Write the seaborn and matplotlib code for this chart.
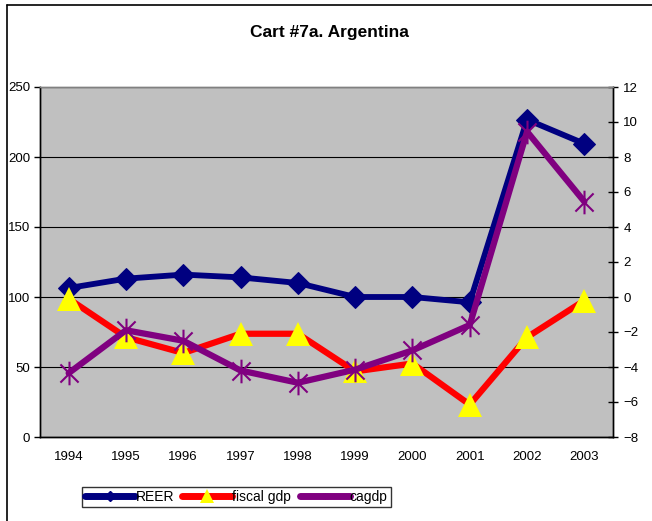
import numpy as np
import matplotlib
matplotlib.use("Agg")
import matplotlib.pyplot as plt
from matplotlib.path import Path
from matplotlib.lines import Line2D
import seaborn as sns

# values
years = ["1994", "1995", "1996", "1997", "1998", "1999", "2000", "2001", "2002", "2003"]
reer = [106.4, 113.1, 116.0, 114.0, 110.0, 100.0, 100.0, 96.2, 226.7, 209.5]
fiscal_gdp = [-0.1, -2.3, -3.2, -2.1, -2.1, -4.25, -3.8, -6.15, -2.3, -0.2]
cagdp = [-4.35, -1.9, -2.5, -4.2, -4.9, -4.15, -3.05, -1.6, 9.45, 5.45]

sns.set_theme(style="white")
plt.rcParams["font.family"] = ["Liberation Sans", "DejaVu Sans"]
plt.rcParams["text.color"] = "black"

# Excel style star: an X with a vertical bar through it
star = Path(
    [(-1, -1), (1, 1), (-1, 1), (1, -1), (0, -1.3), (0, 1.3)],
    [Path.MOVETO, Path.LINETO, Path.MOVETO, Path.LINETO, Path.MOVETO, Path.LINETO],
)

fig = plt.figure(figsize=(6.52, 5.21), dpi=100)
ax = fig.add_axes([40 / 652, 1 - 437 / 521, (613 - 40) / 652, (437 - 87) / 521])
ax.set_facecolor("#C0C0C0")
ax2 = ax.twinx()

xpos = np.arange(len(years))

sns.lineplot(x=xpos, y=reer, ax=ax, color="#000080", linewidth=4.2,
             marker="D", markersize=11, markeredgecolor="#000080",
             markerfacecolor="#000080", label="REER", legend=False)
sns.lineplot(x=xpos, y=fiscal_gdp, ax=ax2, color="#FF0000", linewidth=4.5,
             marker="^", markersize=17, markeredgewidth=0,
             markerfacecolor="#FFFF00", label="fiscal gdp", legend=False)
sns.lineplot(x=xpos, y=cagdp, ax=ax2, color="#800080", linewidth=4.5,
             marker=star, markersize=17, markeredgewidth=1.5,
             markeredgecolor="#800080", label="cagdp", legend=False)

ax.set_xlim(-0.5, len(years) - 0.5)
ax.set_ylim(0, 250)
ax2.set_ylim(-8, 12)
ax.set_yticks(np.arange(0, 251, 50))
ax2.set_yticks(np.arange(-8, 13, 2))

ax.set_xticks(xpos)
ax.set_xticklabels(years)
ax.set_xticks(np.arange(-0.5, len(years), 1), minor=True)
ax.tick_params(axis="x", which="major", length=0, pad=10, labelsize=9.5, colors="black")
ax.tick_params(axis="x", which="minor", length=5, width=1, direction="out", color="black")
ax.tick_params(axis="y", length=4, width=1, direction="out", labelsize=9.5, pad=3, colors="black")
ax2.tick_params(axis="y", length=7, width=1, direction="inout", labelsize=9.5, pad=4, colors="black")

ax.grid(axis="y", color="black", linewidth=0.8)
ax.grid(axis="x", visible=False)
ax2.grid(False)
ax.set_axisbelow(True)

for a in (ax, ax2):
    a.spines["top"].set_color("#808080")
    a.spines["left"].set_color("black")
    a.spines["right"].set_color("black")
    a.spines["bottom"].set_color("black")
    for s in a.spines.values():
        s.set_linewidth(1)
    a.set_xlabel("")
    a.set_ylabel("")

fig.text(329 / 652, 1 - 32 / 521, "Cart #7a. Argentina", ha="center", va="center",
         fontsize=12.5, fontweight="bold", color="black")

handles = [
    Line2D([], [], color="#000080", linewidth=5, marker="D", markersize=5,
           solid_capstyle="round"),
    Line2D([], [], color="#FF0000", linewidth=5, marker="^", markersize=10,
           markerfacecolor="#FFFF00", markeredgewidth=0, solid_capstyle="round"),
    Line2D([], [], color="#800080", linewidth=5, marker=star, markersize=5,
           markeredgewidth=1, solid_capstyle="round"),
]
leg = fig.legend(handles, ["REER", "fiscal gdp", "cagdp"], ncol=3,
                 loc="center left", bbox_to_anchor=(82 / 652, 1 - 497 / 521),
                 frameon=True, fancybox=False, fontsize=10, handlelength=3.6,
                 handletextpad=0.0, columnspacing=0.6, borderpad=0.25,
                 borderaxespad=0)
leg.get_frame().set_edgecolor("black")
leg.get_frame().set_linewidth(1)

# chart area frame (left and top edges visible)
fig.add_artist(Line2D([7 / 652, 7 / 652], [0, 1 - 5 / 521], color="black",
                      linewidth=1.2, transform=fig.transFigure))
fig.add_artist(Line2D([7 / 652, 1], [1 - 5 / 521, 1 - 5 / 521], color="black",
                      linewidth=1.2, transform=fig.transFigure))

fig.savefig("out.png", dpi=100)
